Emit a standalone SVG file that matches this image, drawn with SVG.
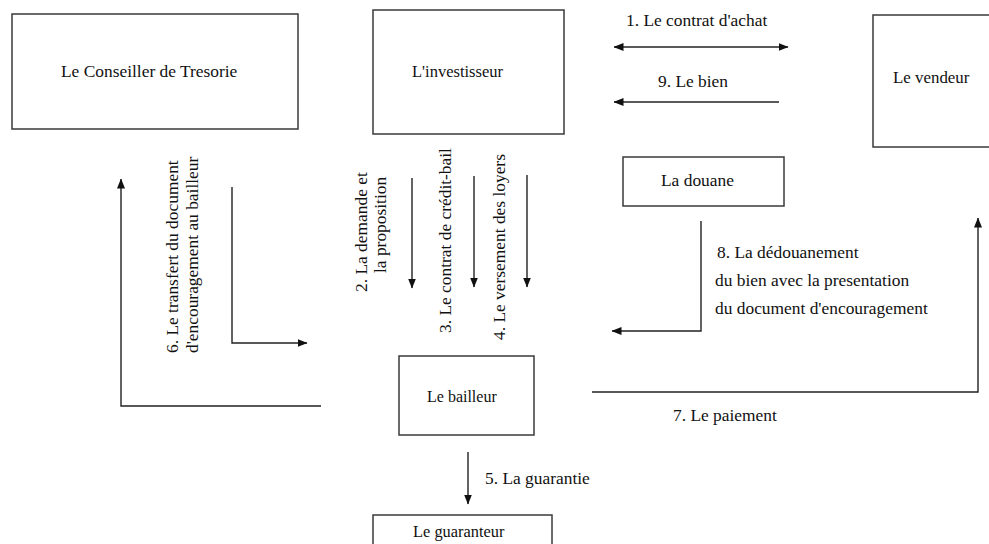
<svg xmlns="http://www.w3.org/2000/svg" width="989" height="544" viewBox="0 0 989 544">
  <style>
    .box { fill: #ffffff; stroke: #3a3a3a; stroke-width: 1.5; }
    .lbl { font-family: "Liberation Serif", "Times New Roman", serif; font-size: 17.4px; fill: #111111; }
    .mid { text-anchor: middle; }
    .ln { fill: none; stroke: #222222; stroke-width: 1.4; }
  </style>
  <defs>
    <marker id="arrow" viewBox="0 0 10 8" refX="9.5" refY="4" markerWidth="10" markerHeight="8" markerUnits="userSpaceOnUse" orient="auto-start-reverse">
      <path d="M0,0 L10,4 L0,8 Z" fill="#111111"/>
    </marker>
  </defs>
  <rect width="989" height="544" fill="#ffffff"/>

  <!-- Nodes -->
  <g id="conseiller">
    <rect class="box" x="12" y="14" width="286" height="115"/>
    <text class="lbl" x="61" y="77">Le Conseiller de Tresorie</text>
  </g>
  <g id="investisseur">
    <rect class="box" x="373" y="10" width="191" height="124"/>
    <text class="lbl" x="412" y="77" style="font-size:16.5px">L'investisseur</text>
  </g>
  <g id="vendeur">
    <rect class="box" x="873" y="15" width="125" height="132"/>
    <text class="lbl" x="893" y="83" style="font-size:16.9px">Le vendeur</text>
  </g>
  <g id="douane">
    <rect class="box" x="623" y="157" width="161" height="49"/>
    <text class="lbl" x="661" y="186">La douane</text>
  </g>
  <g id="bailleur">
    <rect class="box" x="399" y="356" width="135" height="79"/>
    <text class="lbl" x="427" y="402" style="font-size:16px">Le bailleur</text>
  </g>
  <g id="guaranteur">
    <rect class="box" x="373" y="515" width="179" height="40"/>
    <text class="lbl" x="413" y="537" style="font-size:16.4px">Le guaranteur</text>
  </g>

  <!-- Connectors -->
  <g id="connectors">
    <!-- 1. purchase contract (two-way) -->
    <line class="ln" x1="614" y1="47" x2="788" y2="47" marker-start="url(#arrow)" marker-end="url(#arrow)"/>
    <!-- 9. goods -->
    <line class="ln" x1="779" y1="102" x2="614" y2="102" marker-end="url(#arrow)"/>
    <!-- 2, 3, 4 investor to lessor -->
    <line class="ln" x1="412" y1="178" x2="412" y2="288" marker-end="url(#arrow)"/>
    <line class="ln" x1="474" y1="176" x2="474" y2="287" marker-end="url(#arrow)"/>
    <line class="ln" x1="527" y1="175" x2="527" y2="287" marker-end="url(#arrow)"/>
    <!-- 6. transfer of the incentive document -->
    <polyline class="ln" points="321,406 121,406 121,179" marker-end="url(#arrow)"/>
    <polyline class="ln" points="232,187 232,343 307,343" marker-end="url(#arrow)"/>
    <!-- 8. customs clearance -->
    <polyline class="ln" points="701,221 701,331 612,331" marker-end="url(#arrow)"/>
    <!-- 7. payment -->
    <polyline class="ln" points="592,392 978,392 978,218" marker-end="url(#arrow)"/>
    <!-- 5. guarantee -->
    <line class="ln" x1="468" y1="452" x2="468" y2="504" marker-end="url(#arrow)"/>
  </g>

  <!-- Connector labels -->
  <g id="labels">
    <text class="lbl" x="626" y="26">1. Le contrat d'achat</text>
    <text class="lbl" x="658" y="87">9. Le bien</text>
    <text class="lbl" transform="translate(367,292) rotate(-90)">2. La demande et</text>
    <text class="lbl" transform="translate(386,273) rotate(-90)">la proposition</text>
    <text class="lbl" transform="translate(451,333) rotate(-90)">3. Le contrat de crédit-bail</text>
    <text class="lbl" transform="translate(505,340) rotate(-90)">4. Le versement des loyers</text>
    <text class="lbl" transform="translate(178,353) rotate(-90)">6. Le transfert du document</text>
    <text class="lbl" transform="translate(198,353) rotate(-90)">d'encouragement au bailleur</text>
    <text class="lbl" x="717" y="258">8. La dédouanement</text>
    <text class="lbl" x="715" y="286">du bien avec la presentation</text>
    <text class="lbl" x="715" y="314">du document d'encouragement</text>
    <text class="lbl" x="673" y="421">7. Le paiement</text>
    <text class="lbl" x="485" y="484">5. La guarantie</text>
  </g>
</svg>
